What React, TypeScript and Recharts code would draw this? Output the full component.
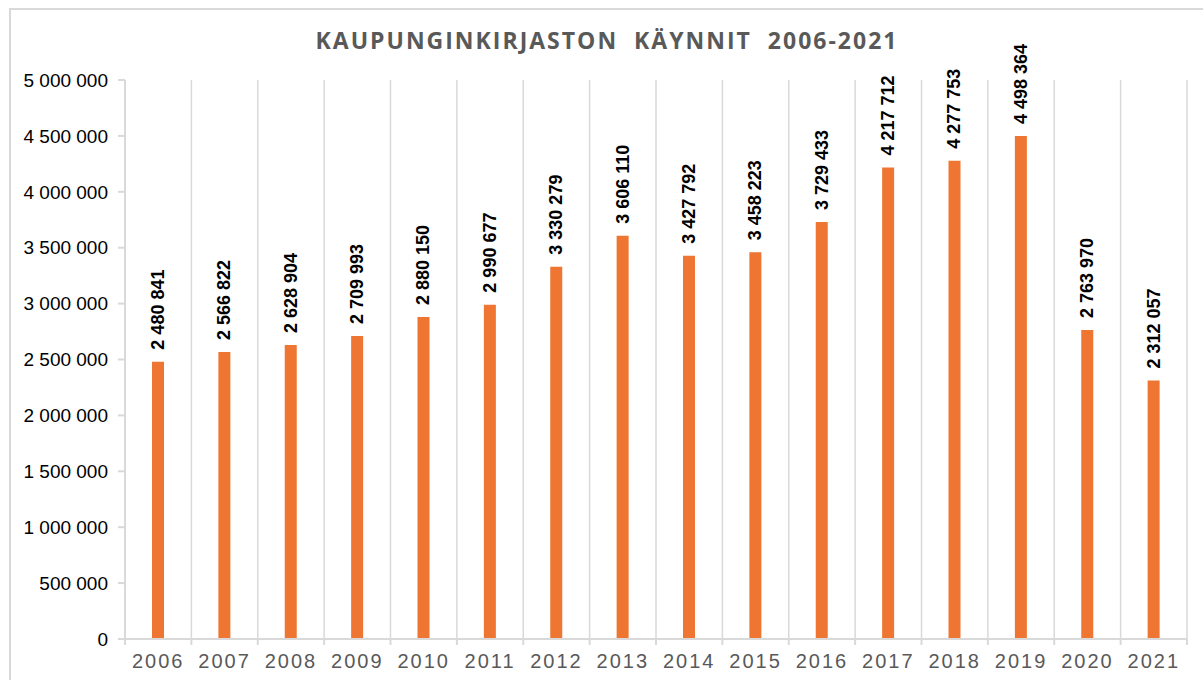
import { BarChart, Bar, XAxis, YAxis, CartesianGrid, LabelList } from 'recharts';

const years = ['2006', '2007', '2008', '2009', '2010', '2011', '2012', '2013', '2014', '2015', '2016', '2017', '2018', '2019', '2020', '2021'];
const visits = [2480841, 2566822, 2628904, 2709993, 2880150, 2990677, 3330279, 3606110, 3427792, 3458223, 3729433, 4217712, 4277753, 4498364, 2763970, 2312057];
const yTicks = [0, 500000, 1000000, 1500000, 2000000, 2500000, 3000000, 3500000, 4000000, 4500000, 5000000];
const title = 'KAUPUNGINKIRJASTON  KÄYNNIT  2006-2021';

const data = years.map((y, i) => ({ year: y, value: visits[i] }));

const W = 1203;
const H = 680;
const MARGIN = { top: 80, right: 16, left: 0, bottom: 0 };
const Y_AXIS_W = 125;
const X_AXIS_H = 41;
const GRID = '#d9d9d9';
const ORANGE = '#EE7632';

// välilyönti tuhaterottimena
const fmt = (v: number) => String(v).replace(/\B(?=(\d{3})+(?!\d))/g, ' ');

const band = (W - MARGIN.left - Y_AXIS_W - MARGIN.right) / years.length;

const XTick = (props: any) => {
  const { x, y, payload, index } = props;
  const left = x - band / 2;
  return (
    <g>
      <line x1={left} x2={left} y1={y - 8} y2={y - 2} stroke={GRID} strokeWidth={2} />
      {index === years.length - 1 && (
        <line x1={left + band} x2={left + band} y1={y - 8} y2={y - 2} stroke={GRID} strokeWidth={2} />
      )}
      <text x={x} y={y + 21} textAnchor="middle" fill="#595959" fontSize={20} letterSpacing={2}
        fontFamily="'Liberation Sans', Arial, sans-serif">
        {payload.value}
      </text>
    </g>
  );
};

const BarLabel = (props: any) => {
  const { x, y, width, value } = props;
  const cx = x + width / 2;
  const cy = y - 12;
  return (
    <text x={cx} y={cy} transform={`rotate(-90, ${cx}, ${cy})`} textAnchor="start" dominantBaseline="central"
      fontSize={18} fontWeight="bold" fill="#000" fontFamily="'Liberation Sans', Arial, sans-serif">
      {fmt(value)}
    </text>
  );
};

export default function App() {
  return (
    <div style={{ position: 'absolute', left: 0, top: 0, width: W, height: H, overflow: 'hidden', background: '#fff' }}>
      <div style={{ position: 'absolute', left: 9, top: 8, width: W + 40, height: H + 40, border: `2px solid ${GRID}` }} />
      <div style={{
        position: 'absolute', left: 0, top: 24, width: 1214, textAlign: 'center',
        fontFamily: "'Open Sans', sans-serif", fontWeight: 700, fontSize: 23, letterSpacing: 2,
        color: '#595959', whiteSpace: 'pre',
      }}>
        {title}
      </div>
      <div style={{ position: 'absolute', left: 0, top: 0 }}>
        <BarChart width={W} height={H} data={data} margin={MARGIN}>
          <CartesianGrid
            horizontal={false}
            stroke={GRID}
            strokeWidth={1.5}
            verticalCoordinatesGenerator={({ offset }: any) =>
              Array.from({ length: years.length + 1 }, (_, i) => offset.left + (i * offset.width) / years.length)
            }
          />
          <XAxis
            dataKey="year"
            height={X_AXIS_H}
            stroke={GRID}
            strokeWidth={2}
            tickLine={false}
            tick={<XTick />}
            interval={0}
          />
          <YAxis
            width={Y_AXIS_W}
            domain={[0, 5000000]}
            ticks={yTicks}
            tickFormatter={fmt}
            stroke={GRID}
            strokeWidth={2}
            tickSize={7}
            tickMargin={10}
            tick={{ fill: '#000', fontSize: 19, fontFamily: "'Liberation Sans', Arial, sans-serif" }}
          />
          <Bar dataKey="value" fill={ORANGE} barSize={12} isAnimationActive={false}>
            <LabelList dataKey="value" content={<BarLabel />} />
          </Bar>
        </BarChart>
      </div>
    </div>
  );
}
